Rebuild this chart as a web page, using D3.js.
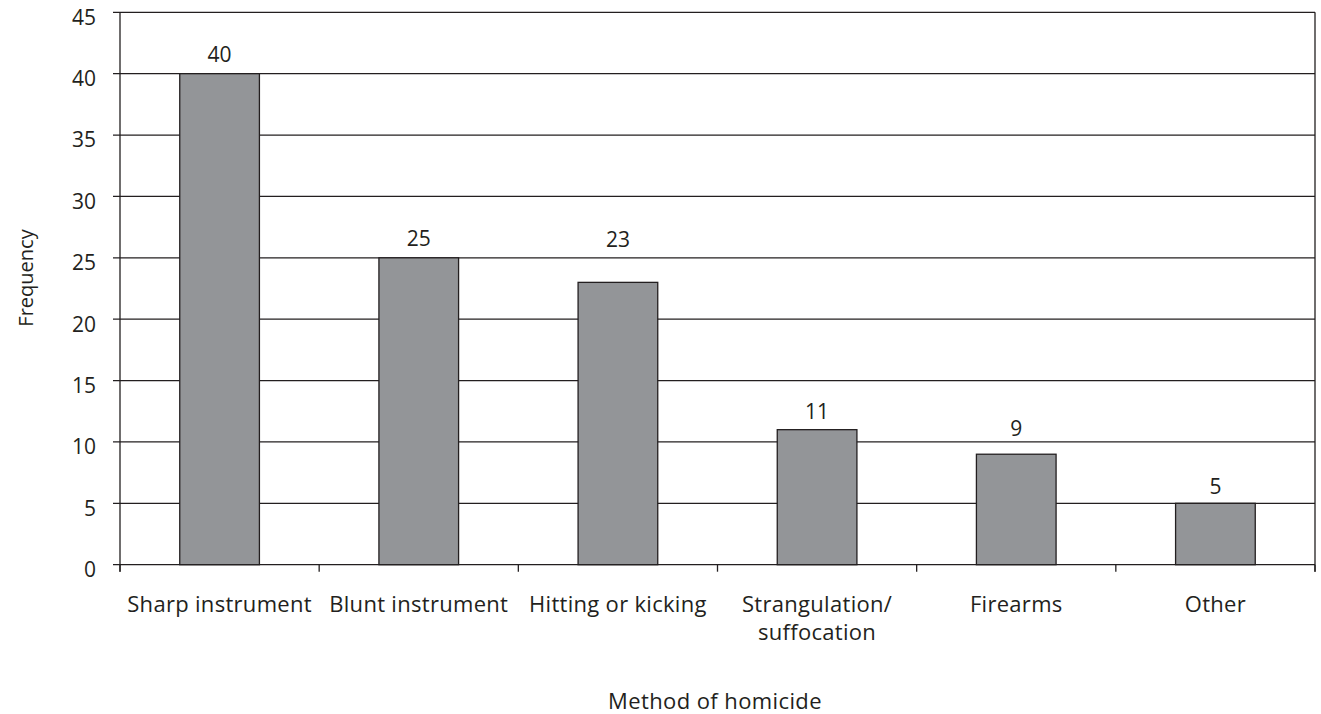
<!DOCTYPE html>
<html><head><meta charset="utf-8">
<script src="https://cdn.jsdelivr.net/npm/d3@7"></script>
<style>body{margin:0;background:#fff;} text{font-family:"Open Sans",sans-serif;fill:#231f20;}</style>
</head><body><svg id="c" width="1321" height="714"></svg>
<script>
const categories = [["Sharp instrument"],["Blunt instrument"],["Hitting or kicking"],["Strangulation/","suffocation"],["Firearms"],["Other"]];
const values = [40,25,23,11,9,5];
const yTicks = [0,5,10,15,20,25,30,35,40,45];

(function(){
const svg = d3.select("#c");
const mL=120,mR=1315,mT=12.3,mB=564.7;
const ink="#231f20", sw=1.3;
const x = d3.scaleBand().domain(d3.range(categories.length)).range([mL,mR]).paddingInner(0.6).paddingOuter(0.3);
const y = d3.scaleLinear().domain([0,45]).range([mB,mT]);

svg.append("g").selectAll("line").data(yTicks).join("line")
  .attr("x1",mL-7).attr("x2",mR).attr("y1",d=>y(d)).attr("y2",d=>y(d))
  .attr("stroke",ink).attr("stroke-width",sw);
svg.append("g").selectAll("text").data(yTicks).join("text")
  .attr("x",96).attr("y",d=>y(d)+5).attr("dy","0.35em").attr("text-anchor","end")
  .attr("font-size",21).text(d=>d);
svg.append("line").attr("x1",mL).attr("x2",mL).attr("y1",mT).attr("y2",mB+7).attr("stroke",ink).attr("stroke-width",sw);
svg.append("line").attr("x1",mR).attr("x2",mR).attr("y1",mT).attr("y2",mB+7).attr("stroke",ink).attr("stroke-width",sw);
const bw = (mR-mL)/categories.length;
svg.append("g").selectAll("line").data(d3.range(categories.length+1)).join("line")
  .attr("x1",d=>mL+d*bw).attr("x2",d=>mL+d*bw).attr("y1",mB).attr("y2",mB+7)
  .attr("stroke",ink).attr("stroke-width",sw);
svg.append("g").selectAll("rect").data(values).join("rect")
  .attr("x",(d,i)=>x(i)).attr("width",x.bandwidth())
  .attr("y",d=>y(d)).attr("height",d=>y(0)-y(d))
  .attr("fill","#939598").attr("stroke",ink).attr("stroke-width",sw);
const labelGap=[12,12,35,11,18,9];
svg.append("g").selectAll("text").data(values).join("text")
  .attr("x",(d,i)=>x(i)+x.bandwidth()/2).attr("y",(d,i)=>y(d)-labelGap[i])
  .attr("text-anchor","middle").attr("font-size",21).text(d=>d);
const cl = svg.append("g").selectAll("text").data(categories).join("text")
  .attr("x",(d,i)=>x(i)+x.bandwidth()/2).attr("y",612)
  .attr("text-anchor","middle").attr("font-size",22).attr("letter-spacing",0.3);
cl.selectAll("tspan").data(d=>d).join("tspan")
  .attr("x",function(){return this.parentNode.getAttribute("x");})
  .attr("dy",(d,i)=>i?28:0).text(d=>d);
svg.append("text").attr("x",715).attr("y",709).attr("text-anchor","middle").attr("font-size",22).attr("letter-spacing",0.4).text("Method of homicide");
svg.append("text").attr("transform","translate(33,278) rotate(-90)").attr("text-anchor","middle").attr("font-size",20).text("Frequency");
})();
</script></body></html>
